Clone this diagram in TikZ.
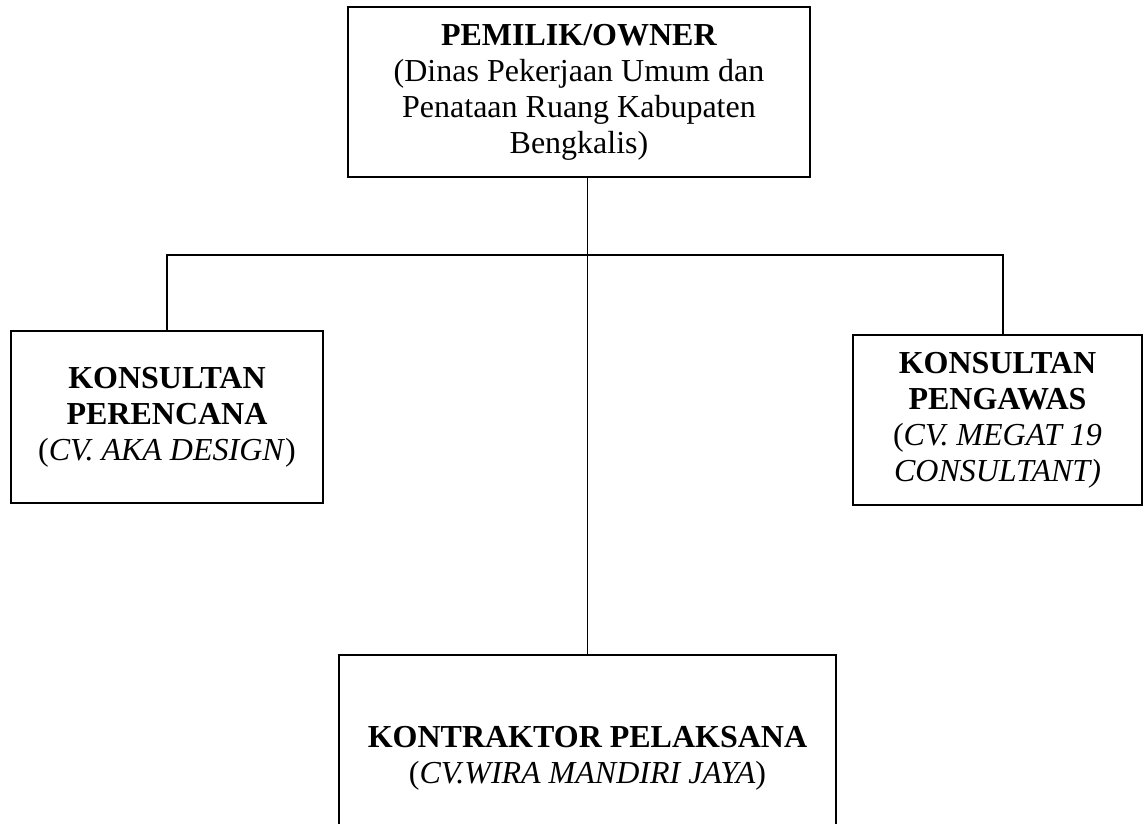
\documentclass[tikz,border=0pt]{standalone}
\usepackage{fontspec}
\setmainfont{Liberation Serif}
\begin{document}
\begin{tikzpicture}[x=1pt,y=-1pt,
  orgbox/.style={draw, line width=1.6pt, inner sep=0pt, align=center,
    font=\fontsize{32}{36}\selectfont},
  link/.style={line width=1.2pt}]
\useasboundingbox (0,0) rectangle (1144,823);
\clip (0,0) rectangle (1144,823);
\node[orgbox, minimum width=462pt, minimum height=170pt] (owner) at (579,92)
  {\textbf{PEMILIK/OWNER}\\(Dinas Pekerjaan Umum dan\\Penataan Ruang Kabupaten\\Bengkalis)};
\node[orgbox, minimum width=312pt, minimum height=172pt] (plan) at (167,417)
  {\textbf{KONSULTAN}\\\textbf{PERENCANA}\\(\textit{CV. AKA DESIGN})};
\node[orgbox, minimum width=289pt, minimum height=170pt] (super) at (997.5,420)
  {\textbf{KONSULTAN}\\\textbf{PENGAWAS}\\(\textit{CV. MEGAT 19}\\\textit{CONSULTANT)}};
\node[orgbox, minimum width=497pt, minimum height=206pt] (contr) at (587.5,758)
  {\textbf{KONTRAKTOR PELAKSANA}\\(\textit{CV.WIRA MANDIRI JAYA})};
\coordinate (hl) at (167,255);
\coordinate (hr) at (1003,255);
\draw[link] (owner.south -| contr.north) -- (contr.north);
\draw[link] (plan.north) -- (hl) -- (hr) -- (hr |- super.north);
\end{tikzpicture}
\end{document}
